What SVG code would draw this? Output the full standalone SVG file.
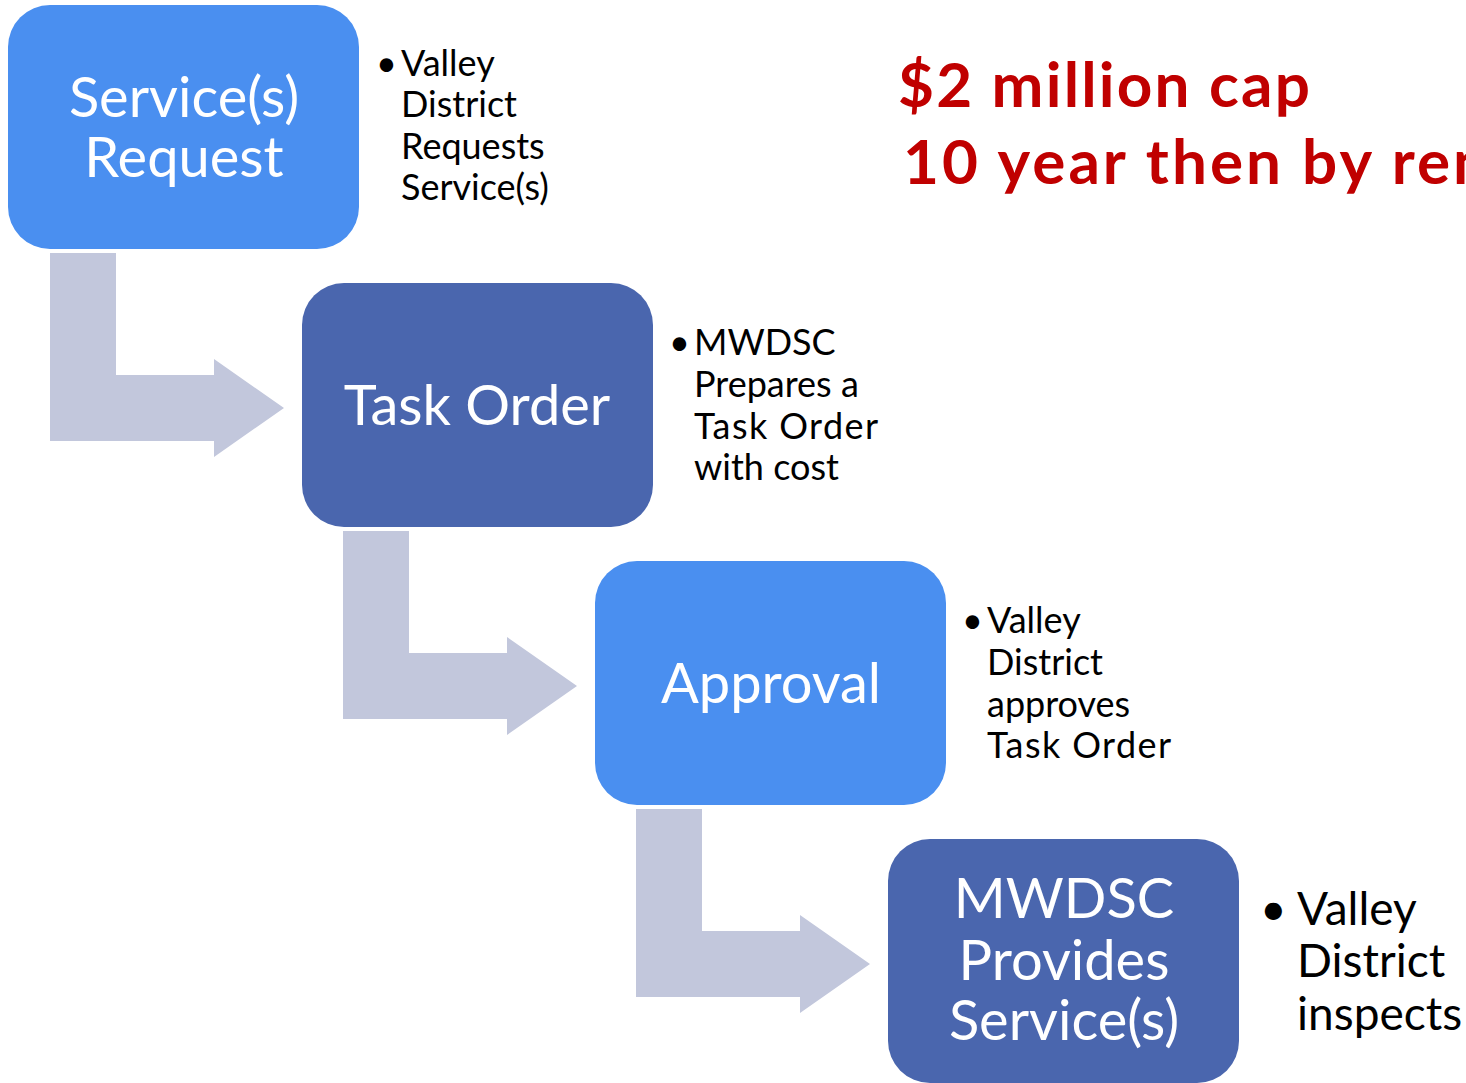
<svg xmlns="http://www.w3.org/2000/svg" width="1466" height="1083" viewBox="0 0 1466 1083">
<style>
.box1{fill:#4A8FF0}
.box2{fill:#4A66AE}
.arr{fill:#C2C7DC}
.lbl{font-family:Lato,"Open Sans","Liberation Sans",sans-serif;fill:#ffffff;font-size:56px;text-anchor:middle}
.bul{font-family:Lato,"Open Sans","Liberation Sans",sans-serif;fill:#000000;font-size:36px}
.bul2{font-family:Lato,"Open Sans","Liberation Sans",sans-serif;fill:#000000;font-size:46px}
.red{font-family:Lato,"Open Sans","Liberation Sans",sans-serif;fill:#C00000;font-size:62px;font-weight:bold}
</style>
<rect width="1466" height="1083" fill="#ffffff"/>
<g id="connectors">
<path class="arr" d="M50,253 H116 V375 H214 V359 L284,408 L214,457 V441 H50 Z"/>
<path class="arr" d="M343,531 H409 V653 H507 V637 L577,686 L507,735 V719 H343 Z"/>
<path class="arr" d="M636,809 H702 V931 H800 V915 L870,964 L800,1013 V997 H636 Z"/>
</g>
<g id="node-request">
<rect class="box1" x="8" y="5" width="351" height="244" rx="42"/>
<text class="lbl" x="184" y="117">Service(s)</text>
<text class="lbl" x="184" y="177">Request</text>
</g>
<g id="node-taskorder">
<rect class="box2" x="302" y="283" width="351" height="244" rx="42"/>
<text class="lbl" x="477" y="425">Task Order</text>
</g>
<g id="node-approval">
<rect class="box1" x="595" y="561" width="351" height="244" rx="42"/>
<text class="lbl" x="771" y="703">Approval</text>
</g>
<g id="node-provides">
<rect class="box2" x="888" y="839" width="351" height="244" rx="42"/>
<text class="lbl" x="1064" y="918">MWDSC</text>
<text class="lbl" x="1064" y="980">Provides</text>
<text class="lbl" x="1064" y="1040">Service(s)</text>
</g>
<g id="note-request">
<text class="bul" x="376" y="76">•</text>
<text class="bul" x="401" y="76">Valley</text>
<text class="bul" x="401" y="117">District</text>
<text class="bul" x="401" y="159">Requests</text>
<text class="bul" x="401" y="200">Service(s)</text>
</g>
<g id="note-taskorder">
<text class="bul" x="669" y="355">•</text>
<text class="bul" x="694" y="355">MWDSC</text>
<text class="bul" x="694" y="397">Prepares a</text>
<text class="bul" x="694" y="439" textLength="184">Task Order</text>
<text class="bul" x="694" y="480">with cost</text>
</g>
<g id="note-approval">
<text class="bul" x="962" y="633">•</text>
<text class="bul" x="987" y="633">Valley</text>
<text class="bul" x="987" y="675">District</text>
<text class="bul" x="987" y="717">approves</text>
<text class="bul" x="987" y="758" textLength="184">Task Order</text>
</g>
<g id="note-provides">
<text class="bul2" x="1260" y="925">•</text>
<text class="bul2" x="1297" y="925">Valley</text>
<text class="bul2" x="1297" y="977">District</text>
<text class="bul2" x="1297" y="1030">inspects</text>
</g>
<g id="cap-note">
<text class="red" x="898" y="107" textLength="412">$2 million cap</text>
<text class="red" x="903" y="184" textLength="585">10 year then by ren</text>
</g>
</svg>
